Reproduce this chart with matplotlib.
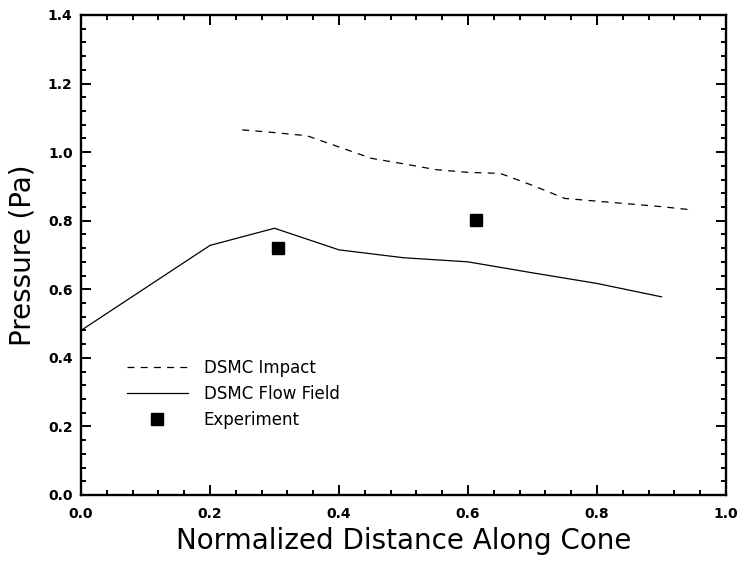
import matplotlib
matplotlib.use("Agg")
import matplotlib.pyplot as plt
from matplotlib.ticker import MultipleLocator, FormatStrFormatter

# DSMC impact pressure along the cone
impact_x = [0.25, 0.30, 0.35, 0.40, 0.45, 0.50, 0.55, 0.60, 0.65, 0.70, 0.75, 0.80, 0.85, 0.90, 0.95]
impact_p = [1.065, 1.057, 1.048, 1.015, 0.982, 0.966, 0.949, 0.941, 0.938, 0.903, 0.865, 0.857, 0.849, 0.841, 0.831]

# DSMC flow-field pressure along the cone
flow_x = [0.0, 0.2, 0.3, 0.4, 0.5, 0.6, 0.7, 0.8, 0.9]
flow_p = [0.48, 0.728, 0.778, 0.715, 0.692, 0.680, 0.648, 0.617, 0.578]

# Measured pressures
exp_x = [0.306, 0.613]
exp_p = [0.719, 0.801]

series_labels = ["DSMC Impact", "DSMC Flow Field", "Experiment"]
x_label = "Normalized Distance Along Cone"
y_label = "Pressure (Pa)"

plt.rcParams["font.family"] = ["DejaVu Sans"]
plt.rcParams["lines.scale_dashes"] = False

fig = plt.figure(figsize=(7.40, 5.62), dpi=100)
ax = fig.add_axes([81 / 740, 1 - 495 / 562, 645 / 740, 480 / 562])

ax.plot(impact_x, impact_p, color="black", lw=0.9, dashes=(5, 4.5), label=series_labels[0])
ax.plot(flow_x, flow_p, color="black", lw=0.9, label=series_labels[1])
ax.plot(exp_x, exp_p, ls="none", marker="s", ms=9.2, color="black", label=series_labels[2])

ax.set_xlim(0.0, 1.0)
ax.set_ylim(0.0, 1.4)
ax.xaxis.set_major_locator(MultipleLocator(0.2))
ax.xaxis.set_minor_locator(MultipleLocator(0.04))
ax.yaxis.set_major_locator(MultipleLocator(0.2))
ax.yaxis.set_minor_locator(MultipleLocator(0.04))
ax.xaxis.set_major_formatter(FormatStrFormatter("%.1f"))
ax.yaxis.set_major_formatter(FormatStrFormatter("%.1f"))

for s in ax.spines.values():
    s.set_linewidth(1.7)

ax.tick_params(which="both", direction="in", top=True, right=True, width=1.4, color="black")
ax.tick_params(which="major", length=7)
ax.tick_params(which="minor", length=3.6)
ax.tick_params(axis="x", which="major", pad=9)
ax.tick_params(axis="y", which="major", pad=6)
for lab in ax.get_xticklabels() + ax.get_yticklabels():
    lab.set_fontweight("bold")
    lab.set_fontsize(10)

ax.set_xlabel(x_label, fontsize=20, labelpad=4)
ax.set_ylabel(y_label, fontsize=20, labelpad=8)

leg = ax.legend(loc="upper left", bbox_to_anchor=(127 / 740, 1 - 359 / 562),
                bbox_transform=fig.transFigure, frameon=False, fontsize=12,
                handlelength=3.65, handletextpad=0.95, labelspacing=0.47,
                borderpad=0, borderaxespad=0)

fig.savefig("out.png", dpi=100, facecolor="white")
